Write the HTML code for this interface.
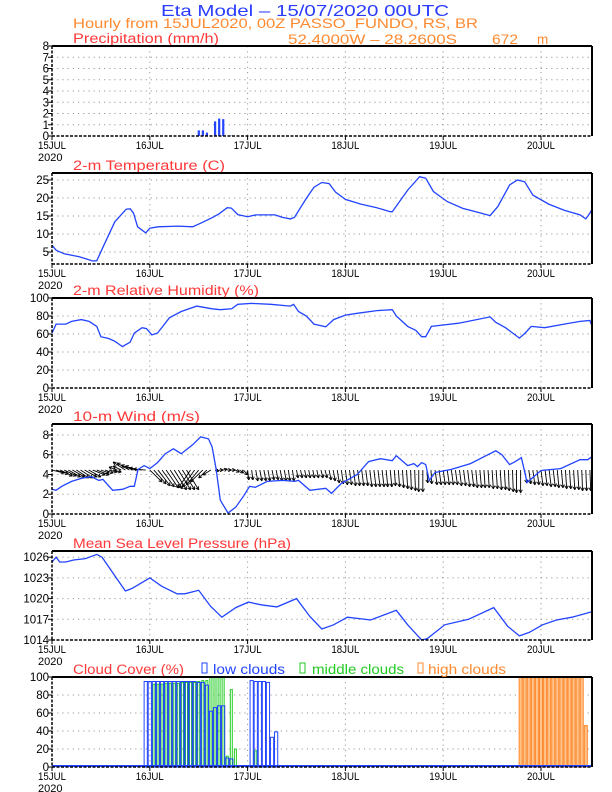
<!DOCTYPE html>
<html><head><meta charset="utf-8"><style>
body{margin:0;background:#fff}
svg{display:block}
text{font-family:"Liberation Sans",sans-serif}
</style></head><body>
<svg id="c" width="612" height="792" viewBox="0 0 612 792" xmlns="http://www.w3.org/2000/svg">
<text x="161" y="16" font-size="16" fill="#2a3cff" textLength="288" lengthAdjust="spacingAndGlyphs">Eta Model – 15/07/2020 00UTC</text>
<text x="73" y="28" font-size="13.5" fill="#ff8a30" textLength="405" lengthAdjust="spacingAndGlyphs">Hourly from 15JUL2020, 00Z  PASSO_FUNDO, RS, BR</text>
<text x="288" y="44" font-size="13.5" fill="#ff8a30" textLength="169" lengthAdjust="spacingAndGlyphs">52.4000W – 28.2600S</text>
<text x="492" y="44" font-size="13.5" fill="#ff8a30" textLength="26" lengthAdjust="spacingAndGlyphs">672</text>
<text x="537" y="44" font-size="13.5" fill="#ff8a30">m</text>
</svg>
<script>
// ---------- data ----------
const dayLabels=["15JUL","16JUL","17JUL","18JUL","19JUL","20JUL"];
const precipHours=[36,37,38,39,40,41,42,44];
const precipVals=[0.5,0.5,0.3,0.05,1.3,1.55,1.5,0.03];
const tempHours=[0,1,3,6.7,10,11,12.5,15.4,18.2,19.2,20,21,23,24,26,31,34.5,36.5,39.4,41,43,44,45.6,48,50,54.7,56.6,58.5,59.5,62.4,64.3,66.2,68,69.6,72,75.8,79.7,83,83.5,87.3,90.2,91.7,93.6,97,100.8,104.6,107.5,109.4,112.3,114.2,116,118,121.9,125.7,129.6,131,132,132.5];
const tempVals=[6.9,5.5,4.5,3.7,2.5,2.6,6.3,13.4,16.9,17,15.8,12,10.3,11.6,12,12.2,12,13,14.6,15.6,17.3,17.2,15.4,14.8,15.3,15.3,14.6,14.2,14.6,19.9,23,24.3,24,21.6,19.6,18.3,17.3,16.2,16.2,22.2,25.9,25.5,21.8,19,17.1,16,15.1,17.6,23.6,25,24.5,20.8,18.3,16.6,15.3,14.2,15.8,16.8];
const rhHours=[0,1,3.4,4.8,7.2,9.1,11,12,13.9,15.4,17.3,19.2,20.2,22.1,23.2,24.5,25.9,28.8,31.7,35.5,39.3,41.3,44.1,45.6,48.9,53.7,58.5,59.3,60.5,62.4,64.3,67.2,69.1,72,74.9,79.7,83.5,84.5,87.3,89.3,90.7,91.7,93.1,96,99.8,107.5,108.9,111.3,114.7,116.1,117.6,120.9,125.7,129.6,132,132.5];
const rhVals=[61,71,71,74,76,74,68.5,57,55,52,46,51,61,67,66,59,61,78,85,91,88,87,88,93,94,93,91,93,85,80,71,68,76,81,83,86,87,80,68.5,64,57,57,68.5,70,72,79,73,67,55.5,61,68.5,67,71,74,75,69];
const windHours=[0,1,2.4,4.8,7.2,9.6,11.5,12.5,14.9,17.3,19.2,20.2,21.1,22.6,24,25.9,27.8,29.8,31.7,34.5,36.5,38.4,39.3,40.3,41.3,43.2,45.1,47,48.5,49.9,52.8,56.6,59.5,60.5,63.3,67.2,68.6,71,74.9,77.7,80.6,83.5,84.5,87.3,88.8,89.7,90.7,91.7,92.6,94,97.9,102.7,106.5,108.9,110.4,112.3,113.7,115.2,116.6,120,124.8,129.6,131.5,132.5];
const windVals=[2.5,2.4,2.8,3.3,3.6,3.8,3.4,3.5,2.4,2.5,2.8,2.8,4.5,4.9,4.6,5.2,6.1,6.6,6.1,7,7.8,7.6,6.8,4.5,1.4,0.1,0.7,1.8,2.8,2.7,3.3,3.4,3.3,3.4,2.4,2.6,2.1,3.1,4,5.3,5.6,5.4,5.9,4.9,5.1,4.8,5.2,5,3.4,4.2,4.5,5.1,5.9,6.4,6,5,5.3,5.7,3.2,4.4,4.6,5.5,5.5,5.8];
// hourly wind vectors from hour 0: u (hours of horizontal reach), v (m/s of vertical reach)
const vecU=[3,3,3,3,3,3,3,3,3,3,3,3,2,2,2,2,-2,-2,-3,-3,-3,-3,-3,-3,3,3,3,3,3,3,3,3,3,3,-3,-3,-3,-3,-2,-2,1,1,1,1,1,1,1,1,0.3,0.3,0.5,0.5,0.5,0.5,0.5,0.5,0.5,0.5,0.4,0.4,0.4,0.4,0.4,0.4,0.4,0.4,0.5,0.5,0.5,0.5,0.5,0.5,0.5,0.5,0.5,0.5,0.5,0.5,0.5,0.5,0.5,0.5,0.4,0.4,0.3,0.3,0.3,0.3,0.2,0.2,0,0,0.2,0.2,0.5,0.5,0.5,0.5,0.5,0.5,0.5,0.5,0.5,0.5,0.4,0.4,0.3,0.3,0.3,0.3,0.3,0.3,0.2,0.2,0,0,0.5,0.5,0.5,0.5,0.5,0.5,0.5,0.5,0.4,0.4,0.3,0.3,0.3,0.3,0.2,0.2,0.2];
const vecV=[-0.3,-0.4,-0.6,-0.6,-0.7,-0.7,-0.8,-0.8,-0.7,-0.7,-0.5,-0.5,-0.3,-0.3,-0.2,-0.2,0.3,0.4,0.8,0.7,0.5,0.4,0.2,0.1,-1.2,-1.4,-1.6,-1.7,-1.8,-1.9,-2,-2,-2,-2,-1.8,-1.7,-1.5,-1.2,-0.8,-0.5,-0.1,0,0.1,0,0,-0.2,-0.3,-0.5,-1,-1,-1.1,-1.1,-1.1,-1.1,-1,-1,-1.1,-1.1,-1.1,-1.1,-0.8,-0.8,-0.8,-0.8,-0.8,-0.8,-0.8,-0.8,-1,-1.1,-1.3,-1.4,-1.5,-1.5,-1.6,-1.6,-1.6,-1.6,-1.7,-1.7,-1.7,-1.7,-1.7,-1.7,-1.6,-1.7,-1.8,-1.9,-2,-2.1,-2.2,-2.2,-1.3,-1.4,-1.5,-1.5,-1.5,-1.5,-1.5,-1.5,-1.6,-1.6,-1.7,-1.7,-1.8,-1.8,-1.8,-1.8,-1.9,-1.9,-2,-2,-2.1,-2.2,-2.3,-2.3,-1.3,-1.4,-1.5,-1.5,-1.6,-1.6,-1.7,-1.7,-1.8,-1.8,-1.9,-1.9,-2,-2,-2.1,-2.1,-2.1];
const mslpHours=[0,1,1.9,3.4,5.3,8.2,11,12.3,15.4,18,19.7,24,26.9,30.7,32.6,36,38.9,41.7,45.1,48.2,51.3,55.2,60,63.3,66.2,69.1,72.5,78.2,84.5,87.3,90.7,92.1,96.4,102.2,108.4,111.8,114.7,117.1,120.4,123.8,127.6,132.5];
const mslpVals=[1025.3,1026,1025.3,1025.3,1025.6,1025.8,1026.4,1026,1023.3,1021.1,1021.5,1023,1021.8,1020.7,1020.7,1021.2,1018.9,1017.3,1018.7,1019.5,1019.1,1018.8,1020,1017.4,1015.6,1016.2,1017.3,1016.9,1018.3,1016.2,1014,1014.2,1016.2,1017,1018.7,1016,1014.6,1015.1,1016.2,1016.9,1017.3,1018.1];
const lowHours=[23,24,25,26,27,28,29,30,31,32,33,34,35,36,37,38,39,40,41,42,43,44,49,50,51,52,53,54,55];
const lowVals=[95,95,95,95,95,95,95,95,95,95,95,95,95,94,94,91,62,66,68,68,10,9,96,95,95,95,94,33,39];
const midHours=[25,26,27,28,29,30,31,32,33,34,35,36,37,38,39,40,41,42,43,44,45,50];
const midVals=[92,92,92,93,93,93,93,94,94,94,94,95,96,96,100,100,100,100,12,86,20,18];
const highHours=[115,116,117,118,119,120,121,122,123,124,125,126,127,128,129,130,131];
const highVals=[100,100,100,100,100,100,100,100,100,100,100,100,100,100,100,100,46];

// ---------- drawing ----------
const svg=document.getElementById('c');
const NS='http://www.w3.org/2000/svg';
const X0=52,X1=592,PXH=4.075;
const xs=h=>X0+h*PXH;
function el(tag,attrs,parent){const e=document.createElementNS(NS,tag);for(const k in attrs)e.setAttribute(k,attrs[k]);(parent||svg).appendChild(e);return e;}
const BLUE='#2244ff';

function panel(name,top,bottom,vTop,vBot,ticks,title,titleLen){
  const g=el('g',{});
  
  
  const ys=v=>bottom-(v-vBot)/(vTop-vBot)*(bottom-top);
  ticks.forEach(t=>{const y=ys(t);
    if(y>top+1&&y<bottom-1){const l=el('line',{x1:X0,x2:X1,y1:y,y2:y,stroke:'#999','stroke-dasharray':'1.2,4','stroke-width':1},g);
      
      }
    const tl=el('line',{x1:X0-4,x2:X0,y1:y,y2:y,stroke:'#000','stroke-width':1},g);
    
    
    const tx=el('text',{x:X0-3,y:y+4,'font-size':11.5,'text-anchor':'end',fill:'#000'},g);tx.textContent=t;
    
    
  });
  dayLabels.forEach((d,i)=>{const x=xs(i*24);
    if(i>0){const l=el('line',{x1:x,x2:x,y1:top,y2:bottom,stroke:'#999','stroke-dasharray':'1.2,4'},g);
      
      }
    const tk=el('line',{x1:x,x2:x,y1:bottom,y2:bottom+4,stroke:'#000'},g);
    
    
    const t=el('text',{x:x,y:bottom+13,'font-size':11,'text-anchor':'middle',fill:'#000',textLength:28,lengthAdjust:'spacingAndGlyphs'},g);t.textContent=d;
    
    
  });
  const yr=el('text',{x:38,y:bottom+25,'font-size':11,fill:'#000'},g);yr.textContent='2020';
  
  
  if(title){const tt=el('text',{x:73,y:top-3,'font-size':13.5,fill:'#ff3838',textLength:titleLen,lengthAdjust:'spacingAndGlyphs'},g);tt.textContent=title;
    
    }
  return {g,ys,top,bottom};
}
function frame(p,name){
  const f=el('g',{},p.g);
  
  
  el('line',{x1:X0,x2:X1,y1:p.top,y2:p.top,stroke:'#000','stroke-width':2},f);
  el('line',{x1:X1,x2:X1,y1:p.top,y2:p.bottom,stroke:'#000','stroke-width':2},f);
  el('line',{x1:X0,x2:X1,y1:p.bottom,y2:p.bottom,stroke:'#000','stroke-width':1.5,'stroke-dasharray':'3,1.5'},f);
  el('line',{x1:X0,x2:X0,y1:p.top,y2:p.bottom,stroke:'#000','stroke-width':1.5,'stroke-dasharray':'3,1.5'},f);
}
function line(p,hrs,vals,name){
  const d=hrs.map((h,i)=>(i?'L':'M')+xs(h).toFixed(1)+','+p.ys(vals[i]).toFixed(1)).join('');
  const l=el('path',{d:d,fill:'none',stroke:BLUE,'stroke-width':1.3},p.g);
  
  
}

// Precip
const pP=panel('precip',46,136,8,0,[0,1,2,3,4,5,6,7,8],'Precipitation (mm/h)',146);
precipHours.forEach((h,i)=>{const y=pP.ys(precipVals[i]);
  const r=el('rect',{x:xs(h)-1,y:y,width:2.2,height:136-y,fill:BLUE},pP.g);
  
  });
frame(pP,'precip');

// Temp
const pT=panel('temp',173,264,26.94,1.67,[5,10,15,20,25],'2-m Temperature (C)',152);
line(pT,tempHours,tempVals,'temperature-line');frame(pT,'temp');

// RH
const pR=panel('rh',298,388,100,0,[0,20,40,60,80,100],'2-m Relative Humidity (%)',186);
line(pR,rhHours,rhVals,'humidity-line');frame(pR,'rh');

// Wind
const pW=panel('wind',424,514,9.11,0,[0,2,4,6,8],'10-m Wind (m/s)',127);
const base=4.45;
vecU.forEach((u,i)=>{const h=i;const x1=xs(h),y1=pW.ys(base),x2=xs(h+u),y2=pW.ys(base+vecV[i]);
  const a=el('g',{},pW.g);
  
  
  el('line',{x1:x1,y1:y1,x2:x2,y2:y2,stroke:'#000','stroke-width':0.9},a);
  const ang=Math.atan2(y2-y1,x2-x1),L=3.5;
  [0.5,-0.5].forEach(s=>el('line',{x1:x2,y1:y2,x2:x2-L*Math.cos(ang+s),y2:y2-L*Math.sin(ang+s),stroke:'#000','stroke-width':0.9},a));
});
line(pW,windHours,windVals,'wind-speed-line');frame(pW,'wind');

// MSLP
const pM=panel('mslp',551,640,1026.9,1014,[1014,1017,1020,1023,1026],'Mean Sea Level Pressure (hPa)',218);
line(pM,mslpHours,mslpVals,'pressure-line');frame(pM,'mslp');

// Cloud
const pC=panel('cloud',677,767,100,0,[0,20,40,60,80,100],'Cloud Cover (%)',111);
function bars(hrs,vals,col,name,fillc,w){hrs.forEach((h,i)=>{const y=pC.ys(vals[i]);
  const r=el('rect',{x:xs(h)-w/2,y:y,width:w,height:767-y,fill:fillc||'none',stroke:col,'stroke-width':1},pC.g);
  
  });}
bars(highHours,highVals,'#ff8a30','high-cloud-bar','#ffc48a',3);
bars(midHours,midVals,'#22cc22','middle-cloud-bar',null,2);
bars(lowHours,lowVals,BLUE,'low-cloud-bar',null,3.2);
const zl=el('line',{x1:X0,x2:X1,y1:766,y2:766,stroke:BLUE,'stroke-width':2},pC.g);


frame(pC,'cloud');
[['low clouds',BLUE,202,213,72,'legend-low-clouds'],['middle clouds','#22cc22',300,312,92,'legend-middle-clouds'],['high clouds','#ff8a30',418,428,78,'legend-high-clouds']].forEach(L=>{
  const g=el('g',{});
  
  
  el('rect',{x:L[2],y:663,width:5,height:10,fill:'none',stroke:L[1]},g);
  const t=el('text',{x:L[3],y:674,'font-size':13.5,fill:L[1],textLength:L[4],lengthAdjust:'spacingAndGlyphs'},g);t.textContent=L[0];
});
</script>
</body></html>
